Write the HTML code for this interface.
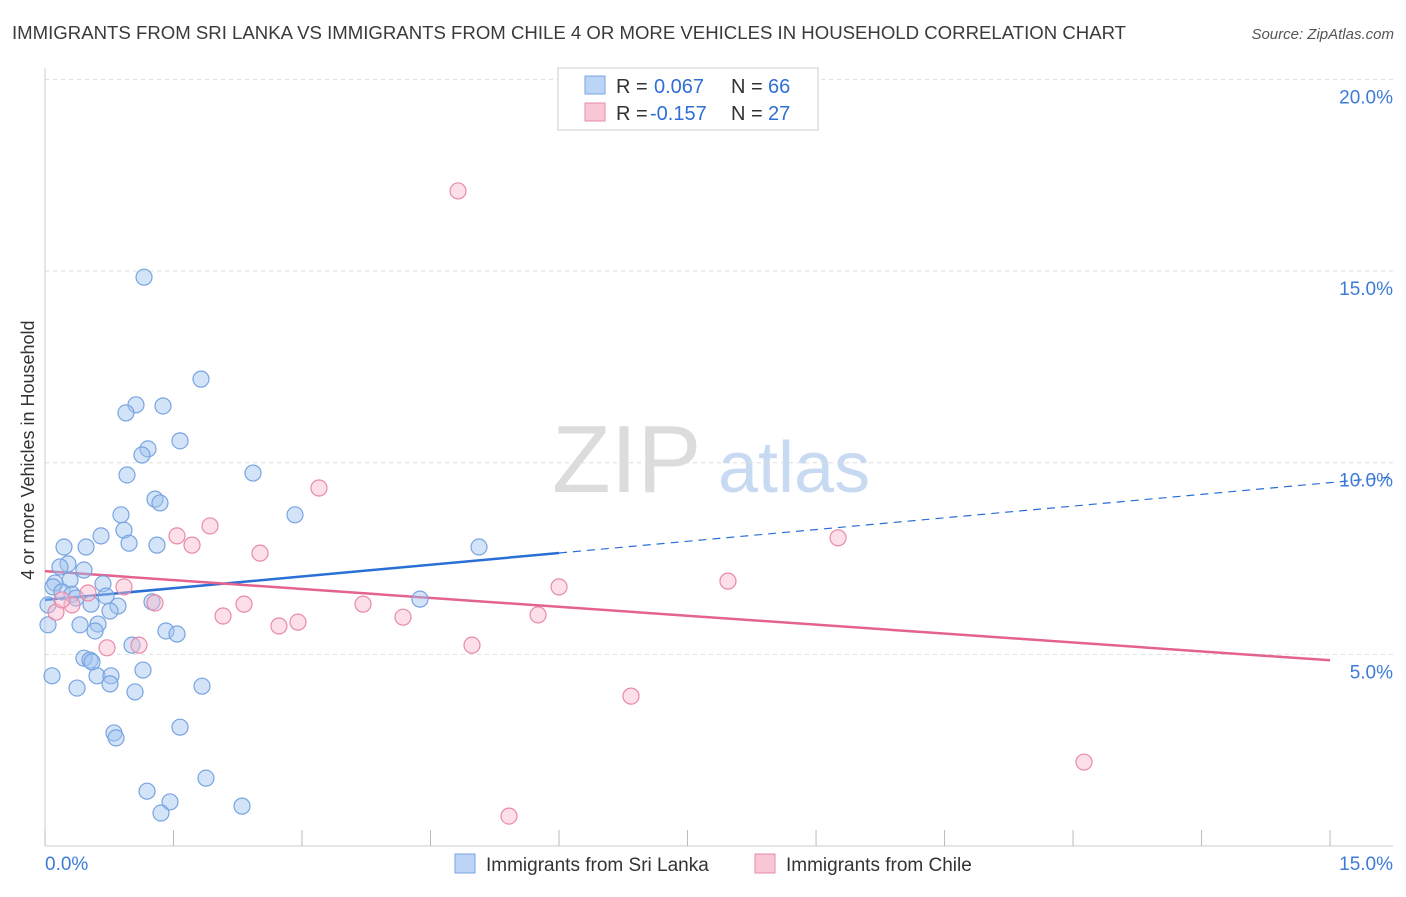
<!DOCTYPE html>
<html><head><meta charset="utf-8"><style>
body{margin:0;background:#fff;font-family:"Liberation Sans",sans-serif;}
svg text{font-family:"Liberation Sans",sans-serif;}
</style></head><body>
<svg id="chart" width="1406" height="892" viewBox="0 0 1406 892" xmlns="http://www.w3.org/2000/svg">
<text x="12" y="39" font-size="18.6" fill="#3a3a3a">IMMIGRANTS FROM SRI LANKA VS IMMIGRANTS FROM CHILE 4 OR MORE VEHICLES IN HOUSEHOLD CORRELATION CHART</text>
<text x="1394" y="39" font-size="15" fill="#555" text-anchor="end" font-style="italic">Source: ZipAtlas.com</text>
<g>
<text x="552" y="492" font-size="96" fill="#dcdcdc" font-family="Liberation Serif,serif">ZIP</text>
<text x="718" y="492" font-size="72" fill="#c8daf2">atlas</text>
</g>
<g id="grid"></g>
<g id="axes"></g>
<g id="trends"></g>
<g id="points"></g>
<text transform="translate(34,450) rotate(-90)" font-size="18" fill="#333" text-anchor="middle">4 or more Vehicles in Household</text>
<g>
<rect x="558" y="68" width="260" height="62" fill="#fff" stroke="#ccc"/>
<rect x="585" y="76" width="20" height="18" fill="#bcd4f5" stroke="#7aa6e0"/>
<rect x="585" y="103" width="20" height="18" fill="#f9c6d6" stroke="#e88aa9"/>
<text x="616" y="93" font-size="20" fill="#333">R =</text>
<text x="654" y="93" font-size="20" fill="#2f6fd6">0.067</text>
<text x="731" y="93" font-size="20" fill="#333">N =</text>
<text x="768" y="93" font-size="20" fill="#2f6fd6">66</text>
<text x="616" y="120" font-size="20" fill="#333">R =</text>
<text x="650" y="120" font-size="20" fill="#2f6fd6">-0.157</text>
<text x="731" y="120" font-size="20" fill="#333">N =</text>
<text x="768" y="120" font-size="20" fill="#2f6fd6">27</text>
</g>
<g>
<rect x="455" y="854" width="20" height="19" fill="#bcd4f5" stroke="#7aa6e0"/>
<text x="486" y="871" font-size="19" fill="#333">Immigrants from Sri Lanka</text>
<rect x="755" y="854" width="20" height="19" fill="#f9c6d6" stroke="#e88aa9"/>
<text x="786" y="871" font-size="19" fill="#333">Immigrants from Chile</text>
</g>
</svg>
<script>
const blueX=[1.156,1.821,1.062,1.377,0.945,1.576,1.202,1.132,0.957,2.428,1.284,1.342,0.887,2.918,0.922,0.654,0.981,1.307,0.222,0.479,5.066,0.268,0.175,0.455,0.292,0.677,0.117,0.093,0.198,0.315,0.362,0.712,0.035,0.537,0.852,0.759,1.249,4.377,0.409,0.619,0.584,1.412,1.541,0.035,1.016,0.455,0.525,0.549,1.144,0.082,0.607,0.770,0.759,0.374,1.833,1.051,1.576,0.805,0.829,1.879,1.191,1.459,2.300,1.354];
const blueY=[14.84,12.18,11.51,11.48,11.30,10.57,10.36,10.20,9.68,9.73,9.05,8.95,8.64,8.64,8.24,8.09,7.90,7.85,7.80,7.80,7.80,7.36,7.28,7.20,6.94,6.84,6.86,6.76,6.63,6.57,6.47,6.52,6.29,6.31,6.26,6.13,6.37,6.44,5.77,5.79,5.61,5.61,5.53,5.77,5.24,4.90,4.85,4.80,4.59,4.44,4.44,4.44,4.23,4.12,4.17,4.02,3.10,2.95,2.82,1.77,1.43,1.15,1.04,0.86];
const pinkX=[4.821,3.198,1.926,1.541,1.716,2.510,9.257,0.922,7.972,6.000,0.502,0.315,0.128,1.284,2.323,3.712,2.078,2.953,2.731,4.179,5.755,1.097,0.724,4.984,6.840,12.128,5.416,0.198];
const pinkY=[17.09,9.34,8.35,8.09,7.85,7.64,8.04,6.76,6.91,6.76,6.60,6.29,6.10,6.34,6.31,6.31,6.00,5.84,5.74,5.97,6.03,5.24,5.17,5.24,3.91,2.19,0.78,6.42];
const blueTrend=[6.42,0.204]; // intercept, slope
const pinkTrend=[7.17,-0.155];
const blueSolidEnd=[6.0];
const yTicks=[5,10,15,20];
const yTickLabels=["5.0%","10.0%","15.0%","20.0%"];
const xTicks=[0,1.5,3,4.5,6,7.5,9,10.5,12,13.5,15];

const NS="http://www.w3.org/2000/svg";
const X=v=>45+v*85.67, Y=v=>846-v*38.33;
function mk(tag,attrs,parent){const e=document.createElementNS(NS,tag);for(const k in attrs)e.setAttribute(k,attrs[k]);document.getElementById(parent).appendChild(e);return e;}
yTicks.forEach((t,i)=>{
 const l=mk('line',{x1:45,x2:1393,y1:Y(t),y2:Y(t),stroke:'#ddd','stroke-dasharray':'4,4'},'grid');
 
 
 const tx=mk('text',{x:1393,y:Y(t)+24,'font-size':19,fill:'#3d7bd9','text-anchor':'end'},'grid');
 tx.textContent=yTickLabels[i];
 
 
});
const ax=mk('line',{x1:45,x2:45,y1:68,y2:846,stroke:'#ccc'},'axes');


const bx=mk('line',{x1:45,x2:1393,y1:846,y2:846,stroke:'#ccc'},'axes');


xTicks.forEach(t=>{
 const l=mk('line',{x1:X(t),x2:X(t),y1:830,y2:846,stroke:'#bbb'},'axes');
 
 
});
const xl0=mk('text',{x:45,y:870,'font-size':19,fill:'#3d7bd9'},'axes');xl0.textContent='0.0%';


const xl1=mk('text',{x:1393,y:870,'font-size':19,fill:'#3d7bd9','text-anchor':'end'},'axes');xl1.textContent='15.0%';


const bmax=blueSolidEnd[0];
const t1=mk('line',{x1:X(0),y1:Y(blueTrend[0]),x2:X(bmax),y2:Y(blueTrend[0]+blueTrend[1]*bmax),stroke:'#2a6fd6','stroke-width':2.5},'trends');


const t2=mk('line',{x1:X(bmax),y1:Y(blueTrend[0]+blueTrend[1]*bmax),x2:X(15.75),y2:Y(blueTrend[0]+blueTrend[1]*15.75),stroke:'#2a6fd6','stroke-width':1.2,'stroke-dasharray':'8,6'},'trends');


const t3=mk('line',{x1:X(0),y1:Y(pinkTrend[0]),x2:X(15),y2:Y(pinkTrend[0]+pinkTrend[1]*15),stroke:'#e4628f','stroke-width':2.5},'trends');


blueX.forEach((v,i)=>{
 const c=mk('circle',{cx:X(v),cy:Y(blueY[i]),r:8,fill:'rgba(160,195,240,0.45)',stroke:'#78a4e0','stroke-width':1.2},'points');
 
 
});
pinkX.forEach((v,i)=>{
 const c=mk('circle',{cx:X(v),cy:Y(pinkY[i]),r:8,fill:'rgba(248,185,205,0.45)',stroke:'#e88aa9','stroke-width':1.2},'points');
 
 
});
</script>
</body></html>
